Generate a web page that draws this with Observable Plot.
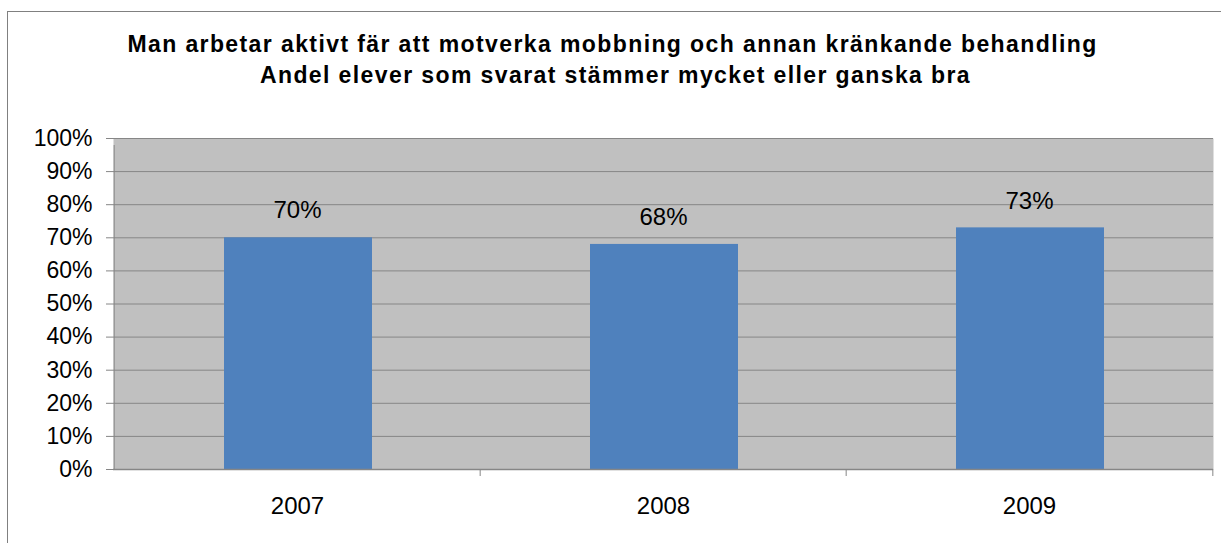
<!DOCTYPE html>
<html>
<head>
<meta charset="utf-8">
<script src="https://cdn.jsdelivr.net/npm/d3@7"></script>
<script src="https://cdn.jsdelivr.net/npm/@observablehq/plot@0.6"></script>
<style>
  html, body { margin: 0; padding: 0; background: #fff; }
  #wrap { position: relative; width: 1221px; height: 543px; overflow: hidden; font-family: "Liberation Sans", Arial, sans-serif; }
  #border { position: absolute; left: 7px; top: 11px; width: 1300px; height: 600px; border-top: 1px solid #808080; border-left: 1px solid #808080; }
  #chart { position: absolute; left: 0; top: 0; }
</style>
</head>
<body>
<div id="wrap"><div id="border"></div><div id="chart"></div></div>
<script>
const titleLines = ["Man arbetar aktivt fär att motverka mobbning och annan kränkande behandling", "Andel elever som svarat stämmer mycket eller ganska bra"];
const years = ["2007", "2008", "2009"];
const values = [0.70, 0.68, 0.73];
const yTicks = [0, 0.1, 0.2, 0.3, 0.4, 0.5, 0.6, 0.7, 0.8, 0.9, 1.0];

const data = years.map((y, i) => ({year: y, value: values[i]}));
const W = 1221, H = 543;
const mL = 113, mR = 8, mT = 138, mB = 74;
const step = (W - mL - mR) / years.length;
const gray = "#868686";

const chart = Plot.plot({
  width: W, height: H,
  marginLeft: mL, marginRight: mR, marginTop: mT, marginBottom: mB,
  style: {fontFamily: "'Liberation Sans', Arial, sans-serif", fontSize: "24px", color: "#000", background: "transparent", overflow: "visible"},
  x: {domain: years, padding: 0, label: null},
  y: {domain: [0, 1], label: null},
  marks: [
    Plot.frame({fill: "#C0C0C0", stroke: null}),
    Plot.gridY(yTicks, {stroke: gray, strokeOpacity: 1, strokeWidth: 1}),
    Plot.barY(data, {x: "year", y: "value", fill: "#4F81BD", insetLeft: 110, insetRight: 108}),
    Plot.ruleY([0], {stroke: gray, strokeWidth: 1.5}),
    Plot.ruleX([years[0]], {y1: 0, y2: 1, dx: -step / 2, stroke: gray, insetBottom: -7}),
    Plot.ruleX(years.slice(1), {y1: 0, y2: 0, dx: -step / 2, stroke: gray, insetBottom: -7}),
    Plot.ruleX([years[years.length - 1]], {y1: 0, y2: 0, dx: step / 2, stroke: gray, insetBottom: -7}),
    Plot.axisY({ticks: yTicks, tickFormat: d3.format(".0%"), tickSize: 7, tickPadding: 14, stroke: gray, fontSize: 23}),
    Plot.axisX({tickSize: 0, tickPadding: 27, fontSize: 24}),
    Plot.text(data, {x: "year", y: "value", text: d => d3.format(".0%")(d.value), dy: -27, fontSize: 24, fill: "#000"}),
    Plot.text([titleLines[0]], {frameAnchor: "top", dx: -51, dy: -103, fontSize: 23, fontWeight: "bold", fill: "#000"}),
    Plot.text([titleLines[1]], {frameAnchor: "top", dx: -48, dy: -72, fontSize: 23, fontWeight: "bold", fill: "#000"})
  ]
});
d3.select(chart).selectAll("text")
  .filter(function() { return titleLines.includes(this.textContent); })
  .attr("letter-spacing", "1.4px")
  .style("letter-spacing", "1.4px");
document.getElementById("chart").appendChild(chart);
</script>
</body>
</html>
